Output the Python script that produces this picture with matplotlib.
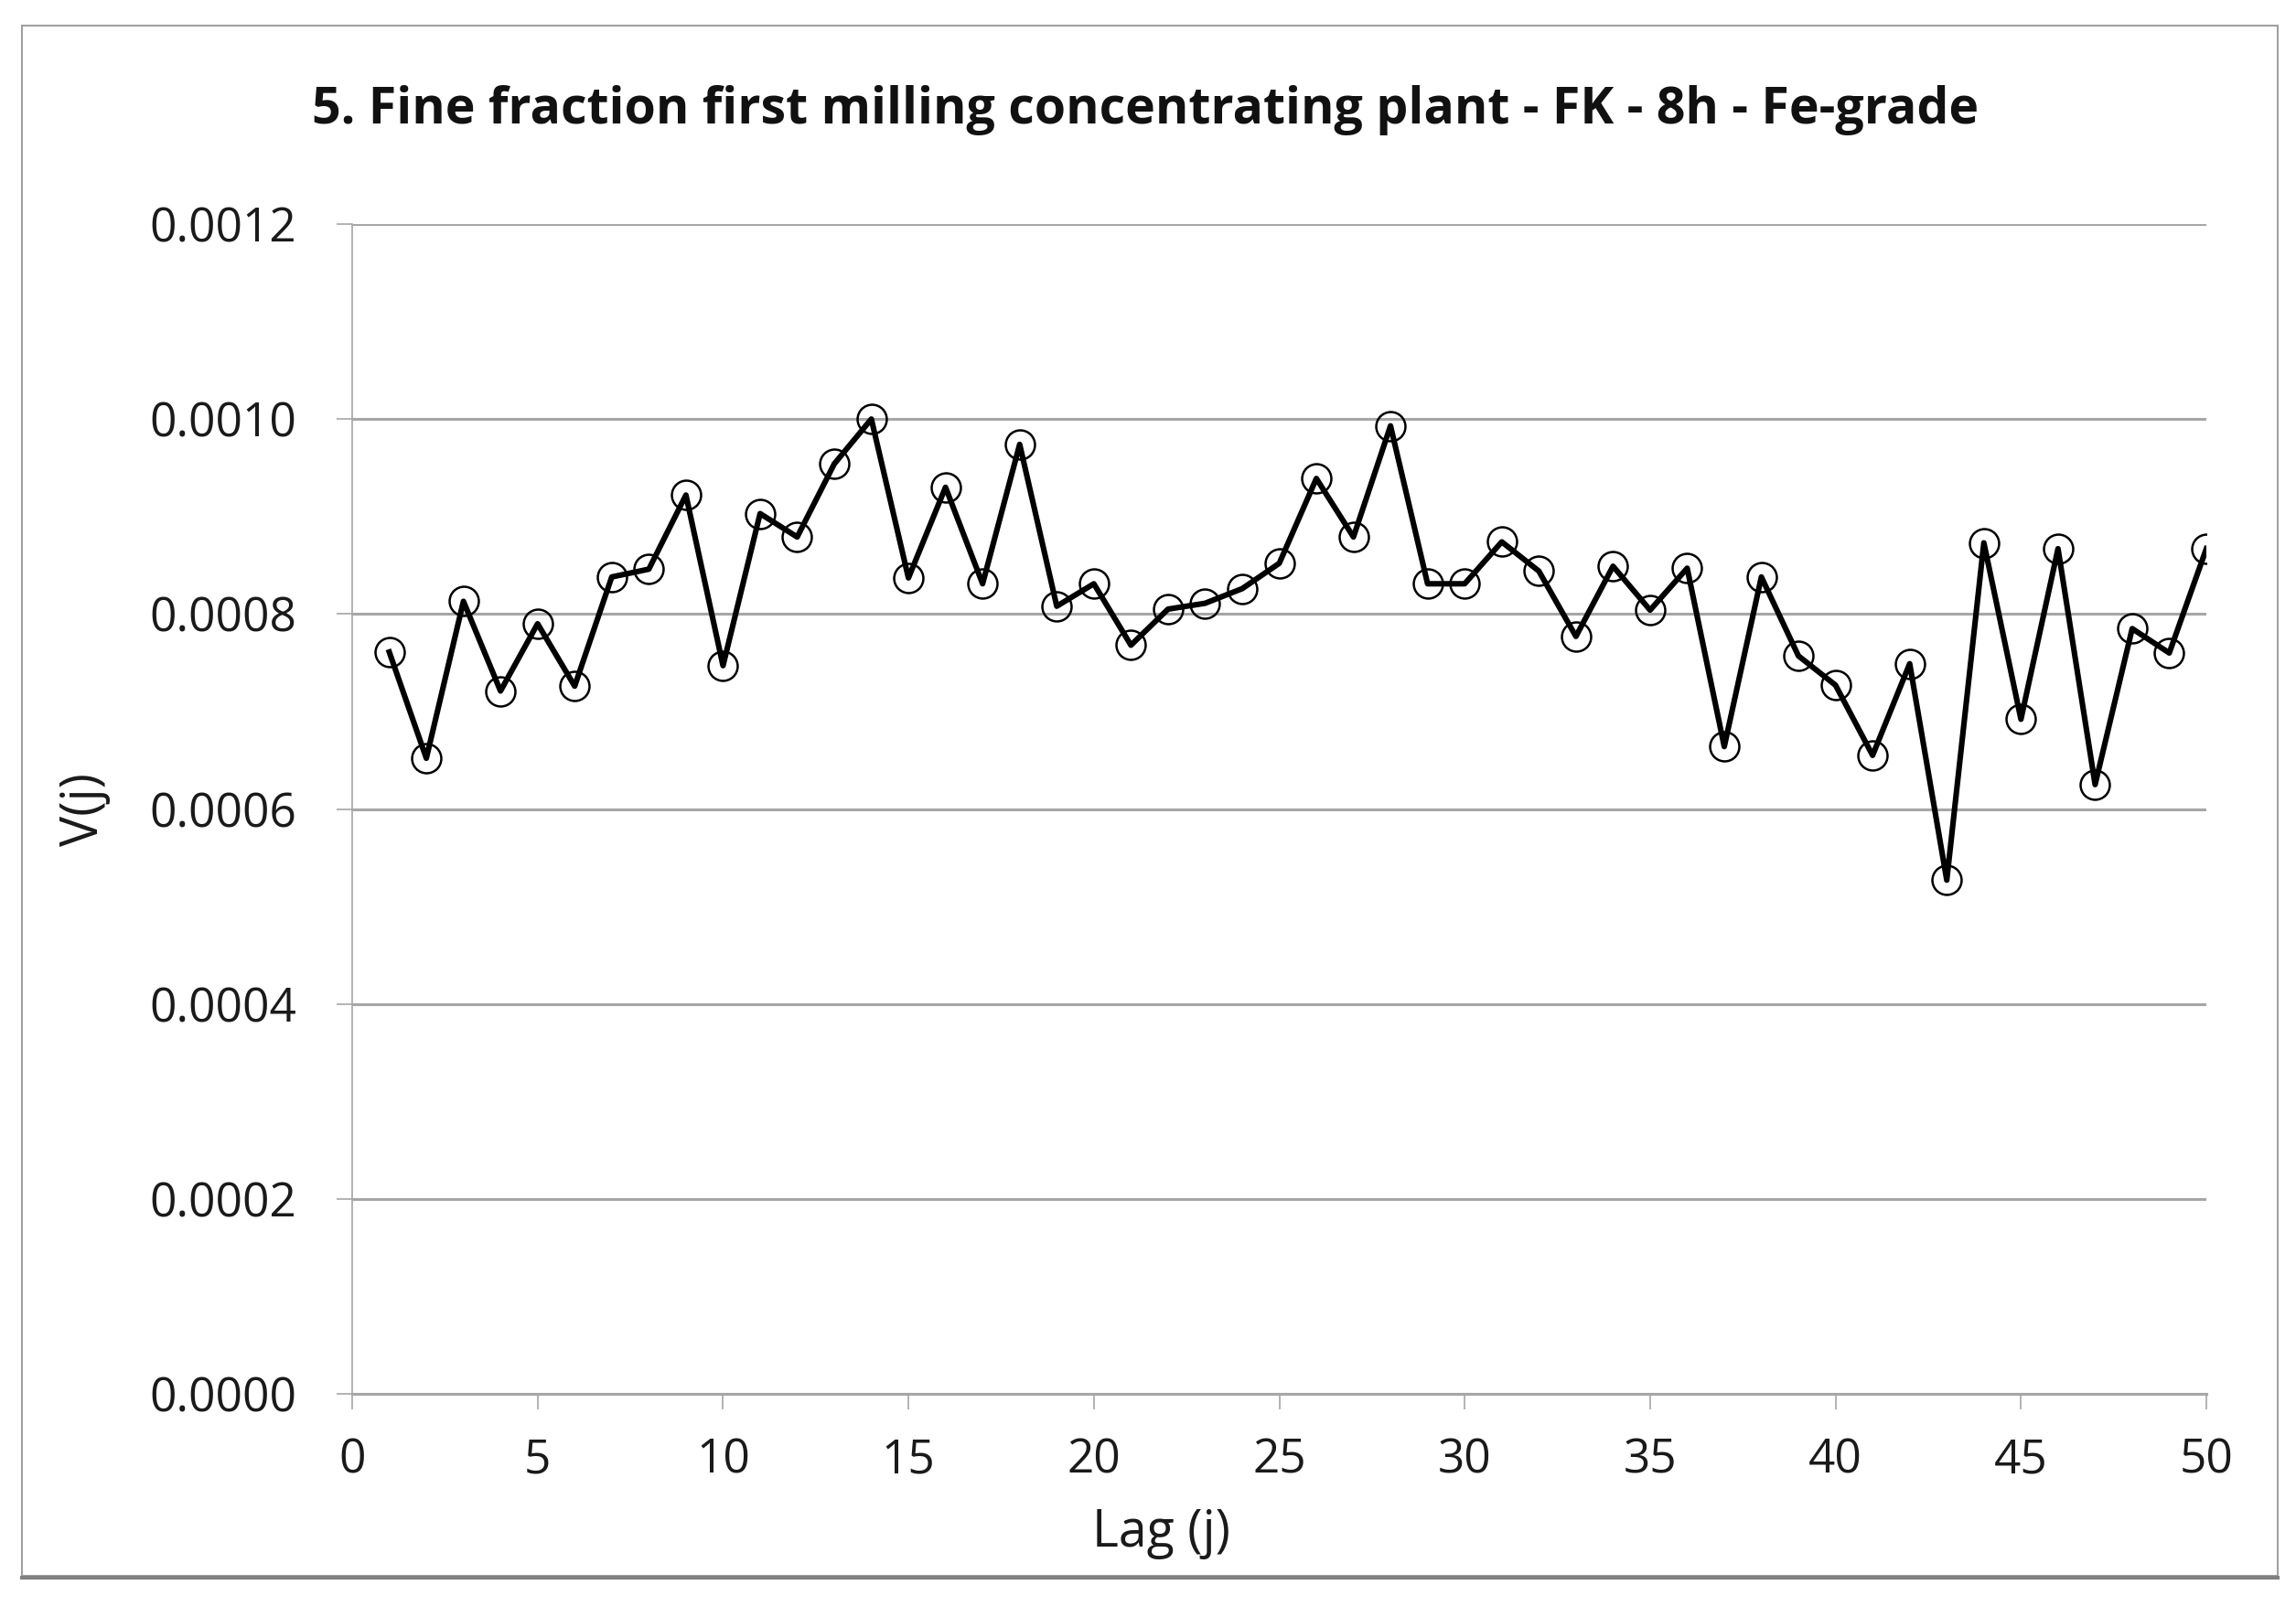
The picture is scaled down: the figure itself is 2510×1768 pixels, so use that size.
import numpy as np
import matplotlib.pyplot as plt
from matplotlib.patches import Rectangle

# Data
lag = np.arange(1, 51)
v_j = [0.000761, 0.000652, 0.000813, 0.000721, 0.000790, 0.000726, 0.000838, 0.000846, 0.000922, 0.000747,
       0.000903, 0.000879, 0.000954, 0.001000, 0.000837, 0.000930, 0.000831, 0.000974, 0.000808, 0.000831,
       0.000768, 0.000805, 0.000811, 0.000826, 0.000852, 0.000939, 0.000879, 0.000993, 0.000831, 0.000831,
       0.000874, 0.000844, 0.000777, 0.000849, 0.000804, 0.000847, 0.000664, 0.000838, 0.000757, 0.000727,
       0.000655, 0.000749, 0.000527, 0.000873, 0.000692, 0.000867, 0.000625, 0.000785, 0.000760, 0.000867]

x_ticks = [0, 5, 10, 15, 20, 25, 30, 35, 40, 45, 50]
y_ticks = [0.0, 0.0002, 0.0004, 0.0006, 0.0008, 0.0010, 0.0012]

plt.rcParams['font.family'] = ['Open Sans', 'DejaVu Sans']

W, H = 2510, 1768
fig = plt.figure(figsize=(W / 100, H / 100), dpi=100)
ax = fig.add_axes([385 / W, 1 - 1524 / H, (2412 - 385) / W, (1524 - 245) / H])

grid_col = '#a6a6a6'
ax.plot(lag, v_j, color='black', linewidth=4.4, marker='o', markersize=23,
        markerfacecolor='none', markeredgecolor='black', markeredgewidth=1.8, zorder=3)

ax.set_xlim(0, 50)
ax.set_ylim(0, 0.0012)
ax.set_xticks(x_ticks)
ax.set_yticks(y_ticks)
ax.set_yticklabels([f'{t:.4f}' for t in y_ticks])
ax.yaxis.grid(True, color=grid_col, linewidth=2.2)
ax.set_axisbelow(True)

for side in ['top', 'right']:
    ax.spines[side].set_visible(False)
ax.spines['left'].set_color(grid_col)
ax.spines['left'].set_linewidth(1.2)
ax.spines['bottom'].set_color(grid_col)
ax.spines['bottom'].set_linewidth(2.2)

ax.tick_params(axis='x', length=12, width=1.2, color=grid_col, labelsize=37, pad=22, labelcolor='#1a1a1a')
ax.tick_params(axis='y', length=12, width=1.2, color=grid_col, labelsize=37, pad=32, labelcolor='#1a1a1a')

ax.set_xlabel('Lag (j)', fontsize=40, color='#1a1a1a')
ax.xaxis.set_label_coords(0.4365, -0.097)
ax.set_ylabel('V(j)', fontsize=40, labelpad=30, color='#1a1a1a')

fig.text(0.499, 1 - 120 / H, '5. Fine fraction first milling concentrating plant - FK - 8h - Fe-grade',
         ha='center', va='center', fontsize=40, fontweight='bold', color='#111111')

# outer chart border with a small shadow at the bottom
fig.patches.append(Rectangle((24 / W, 1 - 1723 / H), (2490 - 24) / W, (1723 - 28) / H,
                             transform=fig.transFigure, fill=False, edgecolor='#a0a0a0', linewidth=1.5))
fig.lines.append(plt.Line2D([24 / W, 2490 / W], [1 - 1725 / H, 1 - 1725 / H],
                            transform=fig.transFigure, color='#808080', linewidth=3))

fig.savefig('out.png', dpi=100, facecolor='white')
